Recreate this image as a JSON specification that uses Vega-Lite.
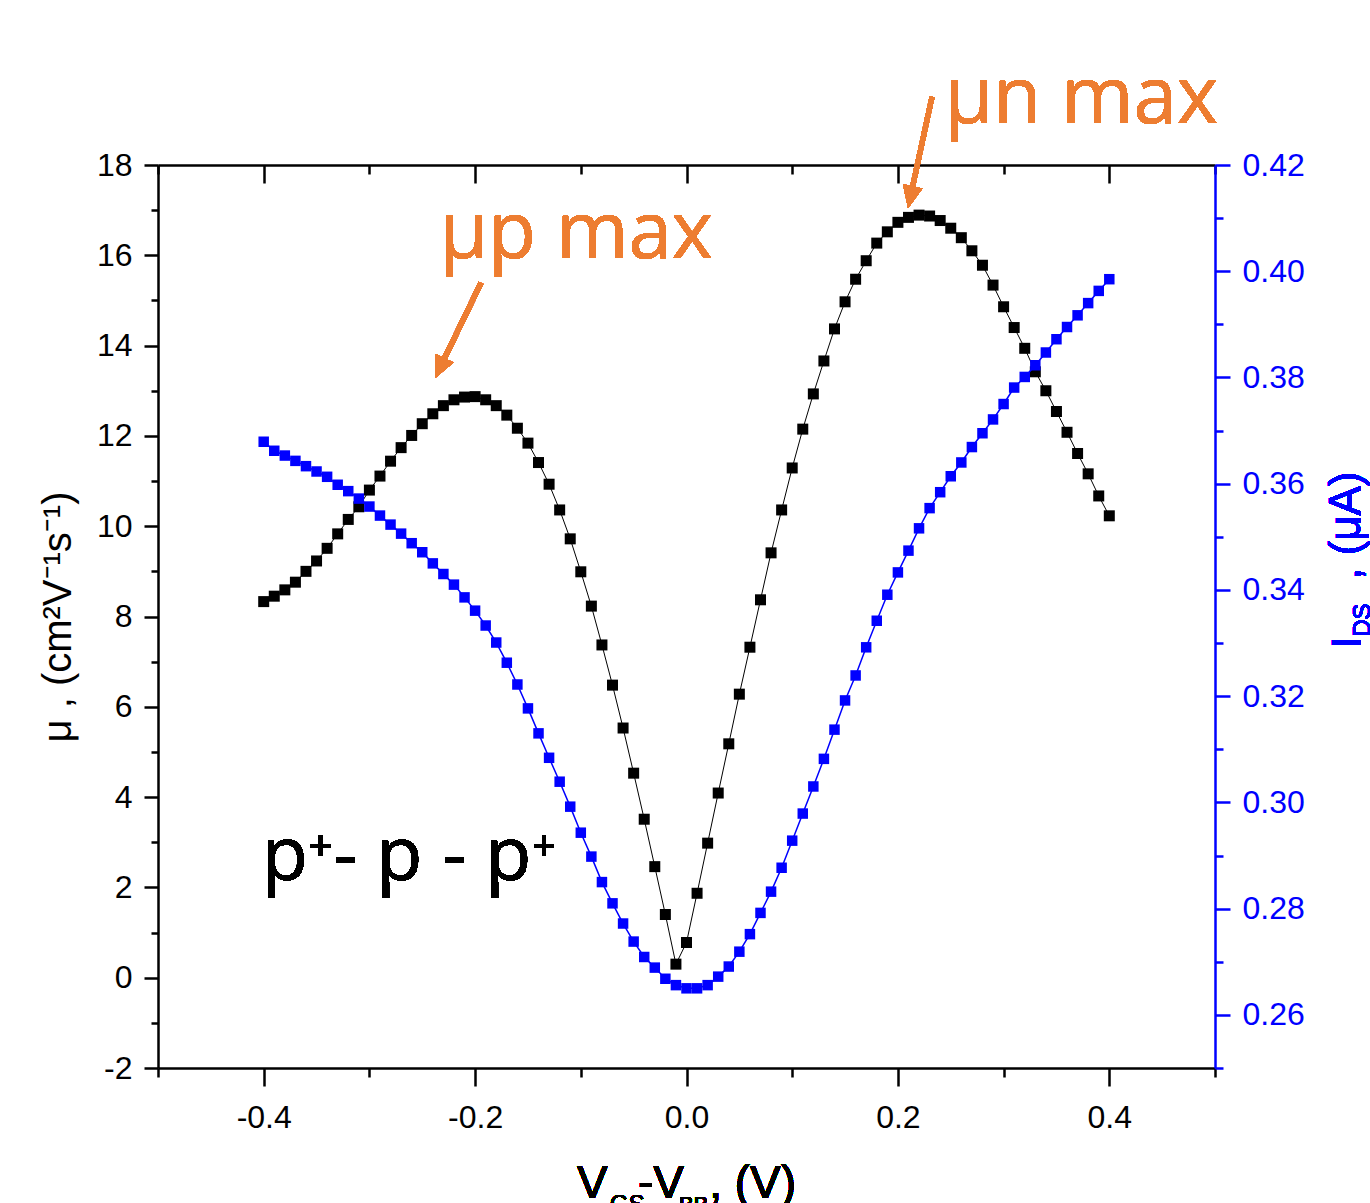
{
  "$schema": "https://vega.github.io/schema/vega-lite/v6.json",
  "width": 1057,
  "height": 903,
  "autosize": {"type": "none"},
  "padding": {"left": 158, "top": 165, "right": 155, "bottom": 135},
  "background": "white",
  "config": {
    "view": {"stroke": null},
    "font": "Liberation Sans",
    "axis": {
      "grid": false,
      "labelFont": "Liberation Sans",
      "titleFont": "Liberation Sans",
      "domainWidth": 2.5,
      "tickWidth": 2.5,
      "domainColor": "black",
      "tickColor": "black",
      "labelColor": "black",
      "labelFontSize": 32,
      "labelFlush": false,
      "labelOverlap": false
    }
  },
  "data": {
    "values": [
      {"V": -0.40, "mu": 8.33, "ids": 0.3679},
      {"V": -0.39, "mu": 8.45, "ids": 0.3662},
      {"V": -0.38, "mu": 8.59, "ids": 0.3653},
      {"V": -0.37, "mu": 8.76, "ids": 0.3643},
      {"V": -0.36, "mu": 9.00, "ids": 0.3633},
      {"V": -0.35, "mu": 9.23, "ids": 0.3623},
      {"V": -0.34, "mu": 9.51, "ids": 0.3613},
      {"V": -0.33, "mu": 9.83, "ids": 0.3598},
      {"V": -0.32, "mu": 10.15, "ids": 0.3586},
      {"V": -0.31, "mu": 10.43, "ids": 0.3572},
      {"V": -0.30, "mu": 10.80, "ids": 0.3557},
      {"V": -0.29, "mu": 11.11, "ids": 0.3540},
      {"V": -0.28, "mu": 11.44, "ids": 0.3523},
      {"V": -0.27, "mu": 11.74, "ids": 0.3506},
      {"V": -0.26, "mu": 12.01, "ids": 0.3488},
      {"V": -0.25, "mu": 12.27, "ids": 0.3471},
      {"V": -0.24, "mu": 12.49, "ids": 0.3450},
      {"V": -0.23, "mu": 12.67, "ids": 0.3430},
      {"V": -0.22, "mu": 12.80, "ids": 0.3410},
      {"V": -0.21, "mu": 12.86, "ids": 0.3386},
      {"V": -0.20, "mu": 12.87, "ids": 0.3361},
      {"V": -0.19, "mu": 12.80, "ids": 0.3333},
      {"V": -0.18, "mu": 12.67, "ids": 0.3301},
      {"V": -0.17, "mu": 12.46, "ids": 0.3263},
      {"V": -0.16, "mu": 12.17, "ids": 0.3222},
      {"V": -0.15, "mu": 11.84, "ids": 0.3177},
      {"V": -0.14, "mu": 11.41, "ids": 0.3130},
      {"V": -0.13, "mu": 10.93, "ids": 0.3084},
      {"V": -0.12, "mu": 10.36, "ids": 0.3039},
      {"V": -0.11, "mu": 9.72, "ids": 0.2992},
      {"V": -0.10, "mu": 8.99, "ids": 0.2943},
      {"V": -0.09, "mu": 8.23, "ids": 0.2898},
      {"V": -0.08, "mu": 7.37, "ids": 0.2850},
      {"V": -0.07, "mu": 6.48, "ids": 0.2810},
      {"V": -0.06, "mu": 5.53, "ids": 0.2772},
      {"V": -0.05, "mu": 4.53, "ids": 0.2738},
      {"V": -0.04, "mu": 3.51, "ids": 0.2709},
      {"V": -0.03, "mu": 2.46, "ids": 0.2689},
      {"V": -0.02, "mu": 1.40, "ids": 0.2668},
      {"V": -0.01, "mu": 0.30, "ids": 0.2656},
      {"V": 0.00, "mu": 0.78, "ids": 0.2650},
      {"V": 0.01, "mu": 1.87, "ids": 0.2650},
      {"V": 0.02, "mu": 2.98, "ids": 0.2656},
      {"V": 0.03, "mu": 4.09, "ids": 0.2672},
      {"V": 0.04, "mu": 5.18, "ids": 0.2691},
      {"V": 0.05, "mu": 6.28, "ids": 0.2719},
      {"V": 0.06, "mu": 7.32, "ids": 0.2752},
      {"V": 0.07, "mu": 8.37, "ids": 0.2792},
      {"V": 0.08, "mu": 9.41, "ids": 0.2832},
      {"V": 0.09, "mu": 10.36, "ids": 0.2877},
      {"V": 0.10, "mu": 11.29, "ids": 0.2928},
      {"V": 0.11, "mu": 12.15, "ids": 0.2979},
      {"V": 0.12, "mu": 12.93, "ids": 0.3030},
      {"V": 0.13, "mu": 13.66, "ids": 0.3082},
      {"V": 0.14, "mu": 14.37, "ids": 0.3137},
      {"V": 0.15, "mu": 14.97, "ids": 0.3192},
      {"V": 0.16, "mu": 15.47, "ids": 0.3239},
      {"V": 0.17, "mu": 15.88, "ids": 0.3292},
      {"V": 0.18, "mu": 16.27, "ids": 0.3342},
      {"V": 0.19, "mu": 16.52, "ids": 0.3391},
      {"V": 0.20, "mu": 16.73, "ids": 0.3433},
      {"V": 0.21, "mu": 16.84, "ids": 0.3474},
      {"V": 0.22, "mu": 16.89, "ids": 0.3516},
      {"V": 0.23, "mu": 16.87, "ids": 0.3554},
      {"V": 0.24, "mu": 16.77, "ids": 0.3584},
      {"V": 0.25, "mu": 16.60, "ids": 0.3614},
      {"V": 0.26, "mu": 16.39, "ids": 0.3640},
      {"V": 0.27, "mu": 16.10, "ids": 0.3669},
      {"V": 0.28, "mu": 15.78, "ids": 0.3695},
      {"V": 0.29, "mu": 15.34, "ids": 0.3721},
      {"V": 0.30, "mu": 14.86, "ids": 0.3750},
      {"V": 0.31, "mu": 14.40, "ids": 0.3781},
      {"V": 0.32, "mu": 13.94, "ids": 0.3801},
      {"V": 0.33, "mu": 13.42, "ids": 0.3823},
      {"V": 0.34, "mu": 13.00, "ids": 0.3847},
      {"V": 0.35, "mu": 12.54, "ids": 0.3872},
      {"V": 0.36, "mu": 12.08, "ids": 0.3895},
      {"V": 0.37, "mu": 11.61, "ids": 0.3917},
      {"V": 0.38, "mu": 11.16, "ids": 0.3940},
      {"V": 0.39, "mu": 10.67, "ids": 0.3963},
      {"V": 0.40, "mu": 10.23, "ids": 0.3985}
    ]
  },
  "resolve": {
    "scale": {"y": "independent"},
    "axis": {"x": "independent", "y": "independent"}
  },
  "layer": [
    {
      "mark": {"type": "line", "color": "black", "strokeWidth": 1},
      "encoding": {
        "x": {"field": "V", "type": "quantitative", "scale": {"domain": [-0.5, 0.5]},
          "axis": {"orient": "bottom", "values": [-0.4, -0.2, 0, 0.2, 0.4], "tickSize": 18, "labelPadding": 16, "title": null,
            "labelExpr": "datum.value < 0 ? '-' + format(-datum.value, '.1f') : format(datum.value, '.1f')"}},
        "y": {"field": "mu", "type": "quantitative", "scale": {"domain": [-2, 18]},
          "axis": {"orient": "left", "values": [-2, 0, 2, 4, 6, 8, 10, 12, 14, 16, 18], "tickSize": 14, "labelPadding": 12,
            "labelExpr": "datum.value < 0 ? '-' + format(-datum.value, 'd') : format(datum.value, 'd')",
            "title": "μ , (cm²V⁻¹s⁻¹)", "titleFontSize": 40, "titleFontWeight": "normal", "titleColor": "black", "titlePadding": 18}}
      }
    },
    {
      "mark": {"type": "point", "shape": "square", "filled": true, "color": "black", "size": 121, "opacity": 1},
      "encoding": {
        "x": {"field": "V", "type": "quantitative", "scale": {"domain": [-0.5, 0.5]}, "axis": null},
        "y": {"field": "mu", "type": "quantitative", "scale": {"domain": [-2, 18]}, "axis": null}
      }
    },
    {
      "mark": {"type": "line", "color": "#0000FF", "strokeWidth": 1.5},
      "encoding": {
        "x": {"field": "V", "type": "quantitative", "scale": {"domain": [-0.5, 0.5]}, "axis": null},
        "y": {"field": "ids", "type": "quantitative", "scale": {"domain": [0.25, 0.42]},
          "axis": {"orient": "right", "values": [0.26, 0.28, 0.30, 0.32, 0.34, 0.36, 0.38, 0.40, 0.42], "format": ".2f", "tickSize": 15, "labelPadding": 12,
            "labelColor": "#0000FF", "tickColor": "#0000FF", "domainColor": "#0000FF", "title": null}}
      }
    },
    {
      "mark": {"type": "point", "shape": "square", "filled": true, "color": "#0000FF", "size": 110, "opacity": 1},
      "encoding": {
        "x": {"field": "V", "type": "quantitative", "scale": {"domain": [-0.5, 0.5]}, "axis": null},
        "y": {"field": "ids", "type": "quantitative", "scale": {"domain": [0.25, 0.42]}, "axis": null}
      }
    },
    {
      "mark": {"type": "point", "opacity": 0},
      "encoding": {
        "x": {"field": "V", "type": "quantitative", "scale": {"domain": [-0.5, 0.5]},
          "axis": {"orient": "top", "values": [-0.4, -0.2, 0, 0.2, 0.4], "tickSize": -18, "labels": false, "title": null}},
        "y": {"field": "mu", "type": "quantitative", "scale": {"domain": [-2, 18]},
          "axis": {"orient": "left", "values": [-1, 1, 3, 5, 7, 9, 11, 13, 15, 17], "tickSize": 7, "labels": false, "domain": false, "title": null}}
      }
    },
    {
      "mark": {"type": "point", "opacity": 0},
      "encoding": {
        "x": {"field": "V", "type": "quantitative", "scale": {"domain": [-0.5, 0.5]},
          "axis": {"orient": "top", "values": [-0.5, -0.3, -0.1, 0.1, 0.3, 0.5], "tickSize": -9, "labels": false, "domain": false, "title": null}},
        "y": {"field": "ids", "type": "quantitative", "scale": {"domain": [0.25, 0.42]},
          "axis": {"orient": "right", "values": [0.25, 0.27, 0.29, 0.31, 0.33, 0.35, 0.37, 0.39, 0.41], "tickSize": 8, "labels": false, "domain": false, "tickColor": "#0000FF", "title": null}}
      }
    },
    {
      "mark": {"type": "point", "opacity": 0},
      "encoding": {
        "x": {"field": "V", "type": "quantitative", "scale": {"domain": [-0.5, 0.5]},
          "axis": {"orient": "bottom", "values": [-0.5, -0.3, -0.1, 0.1, 0.3, 0.5], "tickSize": 9, "labels": false, "domain": false, "title": null}},
        "y": {"field": "mu", "type": "quantitative", "scale": {"domain": [-2, 18]}, "axis": null}
      }
    },
    {
      "mark": {"type": "text", "text": "μp max", "font": "Open Sans", "fontSize": 78, "color": "#ED7D31", "align": "left", "baseline": "alphabetic", "clip": false},
      "encoding": {
        "x": {"datum": -0.2332, "type": "quantitative", "scale": {"domain": [-0.5, 0.5]}, "axis": null},
        "y": {"datum": 15.94, "type": "quantitative", "scale": {"domain": [-2, 18]}, "axis": null}
      }
    },
    {
      "mark": {"type": "text", "text": "μn max", "font": "Open Sans", "fontSize": 78, "color": "#ED7D31", "align": "left", "baseline": "alphabetic", "clip": false},
      "encoding": {
        "x": {"datum": 0.2446, "type": "quantitative", "scale": {"domain": [-0.5, 0.5]}, "axis": null},
        "y": {"datum": 18.93, "type": "quantitative", "scale": {"domain": [-2, 18]}, "axis": null}
      }
    },
    {
      "mark": {"type": "text", "text": "p⁺- p - p⁺", "font": "Open Sans", "fontSize": 75, "color": "black", "align": "left", "baseline": "alphabetic", "clip": false},
      "encoding": {
        "x": {"datum": -0.4016, "type": "quantitative", "scale": {"domain": [-0.5, 0.5]}, "axis": null},
        "y": {"datum": 2.16, "type": "quantitative", "scale": {"domain": [-2, 18]}, "axis": null}
      }
    },
    {
      "mark": {"type": "rule", "color": "#ED7D31", "strokeWidth": 5, "clip": false},
      "encoding": {
        "x": {"datum": -0.1944, "type": "quantitative", "scale": {"domain": [-0.5, 0.5]}, "axis": null},
        "y": {"datum": 15.39, "type": "quantitative", "scale": {"domain": [-2, 18]}, "axis": null},
        "x2": {"datum": -0.2339},
        "y2": {"datum": 13.48}
      }
    },
    {
      "mark": {"type": "point", "shape": "M0,0L-0.9,2L0.9,2Z", "filled": true, "color": "#ED7D31", "opacity": 1, "size": 484, "angle": 205.3, "strokeWidth": 0, "clip": false},
      "encoding": {
        "x": {"datum": -0.2379, "type": "quantitative", "scale": {"domain": [-0.5, 0.5]}, "axis": null},
        "y": {"datum": 13.28, "type": "quantitative", "scale": {"domain": [-2, 18]}, "axis": null}
      }
    },
    {
      "mark": {"type": "rule", "color": "#ED7D31", "strokeWidth": 5, "clip": false},
      "encoding": {
        "x": {"datum": 0.2323, "type": "quantitative", "scale": {"domain": [-0.5, 0.5]}, "axis": null},
        "y": {"datum": 19.51, "type": "quantitative", "scale": {"domain": [-2, 18]}, "axis": null},
        "x2": {"datum": 0.2115},
        "y2": {"datum": 17.26}
      }
    },
    {
      "mark": {"type": "point", "shape": "M0,0L-0.9,2L0.9,2Z", "filled": true, "color": "#ED7D31", "opacity": 1, "size": 484, "angle": 192.2, "strokeWidth": 0, "clip": false},
      "encoding": {
        "x": {"datum": 0.2096, "type": "quantitative", "scale": {"domain": [-0.5, 0.5]}, "axis": null},
        "y": {"datum": 17.05, "type": "quantitative", "scale": {"domain": [-2, 18]}, "axis": null}
      }
    },
    {
      "mark": {"type": "text", "text": "I", "font": "Liberation Sans", "fontSize": 40, "color": "#0000FF", "angle": 270, "align": "left", "baseline": "alphabetic", "clip": false},
      "encoding": {
        "x": {"datum": 0.6372, "type": "quantitative", "scale": {"domain": [-0.5, 0.5]}, "axis": null},
        "y": {"datum": 7.30, "type": "quantitative", "scale": {"domain": [-2, 18]}, "axis": null}
      }
    },
    {
      "mark": {"type": "text", "text": "DS", "font": "Liberation Sans", "fontSize": 24, "color": "#0000FF", "angle": 270, "align": "left", "baseline": "alphabetic", "clip": false},
      "encoding": {
        "x": {"datum": 0.6467, "type": "quantitative", "scale": {"domain": [-0.5, 0.5]}, "axis": null},
        "y": {"datum": 7.55, "type": "quantitative", "scale": {"domain": [-2, 18]}, "axis": null}
      }
    },
    {
      "mark": {"type": "text", "text": ", (μA)", "font": "Liberation Sans", "fontSize": 44, "color": "#0000FF", "angle": 270, "align": "left", "baseline": "alphabetic", "clip": false},
      "encoding": {
        "x": {"datum": 0.6372, "type": "quantitative", "scale": {"domain": [-0.5, 0.5]}, "axis": null},
        "y": {"datum": 8.81, "type": "quantitative", "scale": {"domain": [-2, 18]}, "axis": null}
      }
    },
    {
      "mark": {"type": "text", "text": "V", "font": "Liberation Sans", "fontSize": 46, "color": "black", "align": "left", "baseline": "alphabetic", "clip": false},
      "encoding": {
        "x": {"datum": -0.1036, "type": "quantitative", "scale": {"domain": [-0.5, 0.5]}, "axis": null},
        "y": {"datum": -4.88, "type": "quantitative", "scale": {"domain": [-2, 18]}, "axis": null}
      }
    },
    {
      "mark": {"type": "text", "text": "GS", "font": "Liberation Sans", "fontSize": 24, "color": "black", "align": "left", "baseline": "alphabetic", "clip": false},
      "encoding": {
        "x": {"datum": -0.0724, "type": "quantitative", "scale": {"domain": [-0.5, 0.5]}, "axis": null},
        "y": {"datum": -5.19, "type": "quantitative", "scale": {"domain": [-2, 18]}, "axis": null}
      }
    },
    {
      "mark": {"type": "text", "text": "-V", "font": "Liberation Sans", "fontSize": 46, "color": "black", "align": "left", "baseline": "alphabetic", "clip": false},
      "encoding": {
        "x": {"datum": -0.0459, "type": "quantitative", "scale": {"domain": [-0.5, 0.5]}, "axis": null},
        "y": {"datum": -4.88, "type": "quantitative", "scale": {"domain": [-2, 18]}, "axis": null}
      }
    },
    {
      "mark": {"type": "text", "text": "BB", "font": "Liberation Sans", "fontSize": 22, "color": "black", "align": "left", "baseline": "alphabetic", "clip": false},
      "encoding": {
        "x": {"datum": -0.0071, "type": "quantitative", "scale": {"domain": [-0.5, 0.5]}, "axis": null},
        "y": {"datum": -5.19, "type": "quantitative", "scale": {"domain": [-2, 18]}, "axis": null}
      }
    },
    {
      "mark": {"type": "text", "text": ", (V)", "font": "Liberation Sans", "fontSize": 46, "color": "black", "align": "left", "baseline": "alphabetic", "clip": false},
      "encoding": {
        "x": {"datum": 0.0215, "type": "quantitative", "scale": {"domain": [-0.5, 0.5]}, "axis": null},
        "y": {"datum": -4.88, "type": "quantitative", "scale": {"domain": [-2, 18]}, "axis": null}
      }
    }
  ]
}
